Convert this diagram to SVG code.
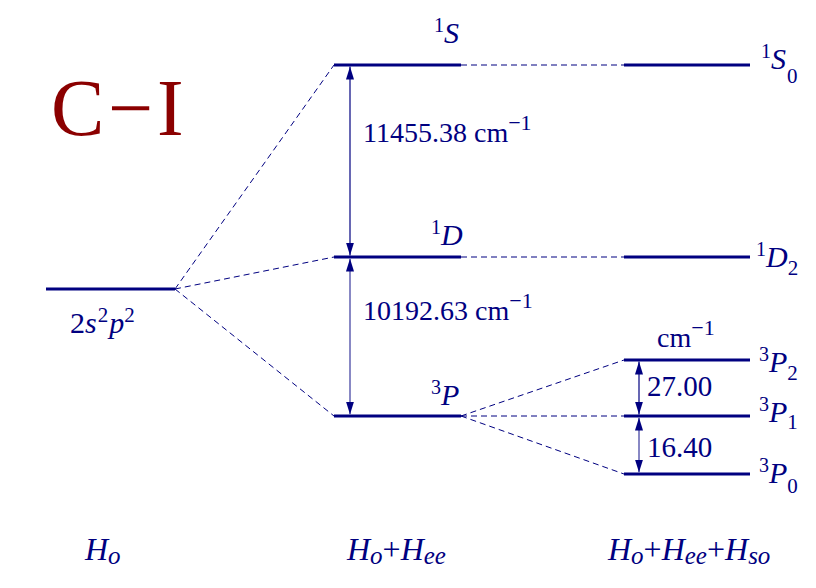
<svg xmlns="http://www.w3.org/2000/svg" width="816" height="588" viewBox="0 0 816 588">
<style>
.lvl{stroke:#000080;stroke-width:3;fill:none}
.dash{stroke:#000080;stroke-width:1;stroke-dasharray:6,4;fill:none}
.arr{stroke:#000080;stroke-width:1.2;fill:none}
.arr2{stroke:#6060b0;stroke-width:1.5;fill:none}
text{font-family:"Liberation Serif","Times New Roman",serif;fill:#000080}
.it{font-style:italic}
.big{font-size:30px}
.sup{font-size:20px}
.sub{font-size:21px}
.num{font-size:28px}
.ham{font-size:32px;font-style:italic}
.hs{font-size:25px}
</style>
<defs>
<marker id="ah" viewBox="0 0 13 8" refX="13" refY="4" markerWidth="13" markerHeight="8" markerUnits="userSpaceOnUse" orient="auto-start-reverse">
<path d="M0,0 L13,4 L0,8 Z" fill="#000080"/>
</marker>
</defs>
<rect width="816" height="588" fill="#fff"/>
<g id="title" style="font-size:80px">
<text x="51" y="135" style="fill:#8b0000">C</text>
<text x="108" y="135" style="fill:#8b0000">−</text>
<text x="157" y="135" style="fill:#8b0000">I</text>
</g>

<g id="level-Ho">
<line class="lvl" x1="46" y1="289" x2="175" y2="289"/>
<text x="70" y="333" style="font-size:30px">2<tspan class="it">s</tspan><tspan dy="-11" dx="1" font-size="21">2</tspan><tspan dy="11" dx="1" class="it">p</tspan><tspan dy="-11" font-size="21">2</tspan></text>
</g>
<g id="level-1S">
<line class="lvl" x1="334" y1="65" x2="461" y2="65"/>
<text x="434" y="43" class="big"><tspan class="sup" dy="-11">1</tspan><tspan class="it" dy="11">S</tspan></text>
</g>
<g id="level-1D">
<line class="lvl" x1="334" y1="257" x2="461" y2="257"/>
<text x="431" y="245" class="big"><tspan class="sup" dy="-11">1</tspan><tspan class="it" dy="11">D</tspan></text>
</g>
<g id="level-3P">
<line class="lvl" x1="334" y1="416" x2="461" y2="416"/>
<text x="431" y="405" class="big"><tspan class="sup" dy="-11">3</tspan><tspan class="it" dy="11">P</tspan></text>
</g>
<g id="level-1S0">
<line class="lvl" x1="624" y1="65" x2="750" y2="65"/>
<text x="761" y="69" class="big"><tspan class="sup" dy="-11">1</tspan><tspan class="it" dy="11">S</tspan><tspan class="sub" dy="14" dx="1">0</tspan></text>
</g>
<g id="level-1D2">
<line class="lvl" x1="624" y1="257" x2="750" y2="257"/>
<text x="756" y="267" class="big"><tspan class="sup" dy="-11">1</tspan><tspan class="it" dy="11">D</tspan><tspan class="sub" dy="8">2</tspan></text>
</g>
<g id="level-3P2">
<line class="lvl" x1="624" y1="360" x2="750" y2="360"/>
<text x="759" y="372" class="big"><tspan class="sup" dy="-11">3</tspan><tspan class="it" dy="11">P</tspan><tspan class="sub" dy="8">2</tspan></text>
</g>
<g id="level-3P1">
<line class="lvl" x1="624" y1="416" x2="750" y2="416"/>
<text x="759" y="422" class="big"><tspan class="sup" dy="-11">3</tspan><tspan class="it" dy="11">P</tspan><tspan class="sub" dy="7">1</tspan></text>
</g>
<g id="level-3P0">
<line class="lvl" x1="624" y1="474" x2="750" y2="474"/>
<text x="759" y="483" class="big"><tspan class="sup" dy="-11">3</tspan><tspan class="it" dy="11">P</tspan><tspan class="sub" dy="10">0</tspan></text>
</g>

<g id="connectors">
<line class="dash" x1="175" y1="289" x2="334" y2="65"/>
<line class="dash" x1="175" y1="289" x2="334" y2="257"/>
<line class="dash" x1="175" y1="289" x2="334" y2="416"/>
<line class="dash" x1="461" y1="65" x2="624" y2="65"/>
<line class="dash" x1="461" y1="257" x2="624" y2="257"/>
<line class="dash" x1="461" y1="416" x2="624" y2="360"/>
<line class="dash" x1="461" y1="416" x2="624" y2="416"/>
<line class="dash" x1="461" y1="416" x2="624" y2="474"/>
<line class="arr" x1="350" y1="66.5" x2="350" y2="255.5" marker-start="url(#ah)" marker-end="url(#ah)"/>
<line class="arr2" x1="350" y1="258.5" x2="350" y2="414.5" marker-start="url(#ah)" marker-end="url(#ah)"/>
<line class="arr" x1="639" y1="361.5" x2="639" y2="414.5" marker-start="url(#ah)" marker-end="url(#ah)"/>
<line class="arr2" x1="639" y1="417.5" x2="639" y2="472.5" marker-start="url(#ah)" marker-end="url(#ah)"/>
</g>

<g id="labels">
<text x="363" y="142" class="num">11455.38 cm<tspan dy="-12" font-size="22">−1</tspan></text>
<text x="363" y="320" class="num">10192.63 cm<tspan dy="-12" font-size="22">−1</tspan></text>
<text x="657" y="347" class="num">cm<tspan dy="-12" font-size="22">−1</tspan></text>
<text x="647" y="396" class="num" style="font-size:29px">27.00</text>
<text x="647" y="457" class="num" style="font-size:29px">16.40</text>
<text x="85" y="560" class="ham">H<tspan class="hs" dy="4">o</tspan></text>
<text x="347" y="560" class="ham">H<tspan class="hs" dy="4">o</tspan><tspan dy="-4" font-style="normal">+</tspan>H<tspan class="hs" dy="4">ee</tspan></text>
<text x="608" y="560" class="ham">H<tspan class="hs" dy="4">o</tspan><tspan dy="-4" font-style="normal">+</tspan>H<tspan class="hs" dy="4">ee</tspan><tspan dy="-4" font-style="normal">+</tspan>H<tspan class="hs" dy="4">so</tspan></text>
</g>
</svg>
